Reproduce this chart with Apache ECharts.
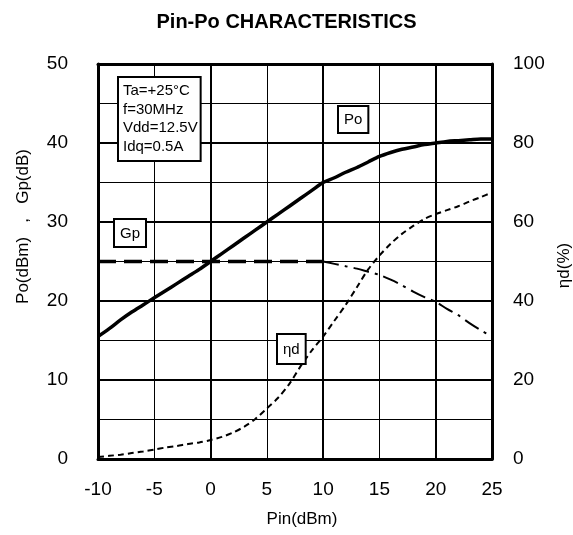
<!DOCTYPE html>
<html><head><meta charset="utf-8">
<script src="https://cdn.jsdelivr.net/npm/echarts@6/dist/echarts.min.js"></script>
<style>html,body{margin:0;padding:0;background:#fff}#c{width:573px;height:535px}</style>
</head><body><div id="c"></div>
<script>
const pinValues = [-10,-9,-8,-7,-6,-5,-4,-3,-2,-1,0,1,2,3,4,5,6,7,8,9,10,11,12,13,14,15,16,17,18,19,20,21,22,23,24,25];
const poValues  = [15.5,16.5,17.6,18.6,19.5,20.4,21.3,22.2,23.1,24.0,25.0,26.0,27.0,28.0,29.0,30.0,31.0,32.0,33.0,34.0,35.0,35.6,36.3,36.9,37.6,38.3,38.8,39.2,39.5,39.8,40.0,40.2,40.3,40.4,40.5,40.5];
const gpValues  = [25,25,25,25,25,25,25,25,25,25,25,25,25,25,25,25,25,25,25,25,25,24.7,24.4,24.1,23.7,23.3,22.7,22.0,21.2,20.5,19.9,19.0,18.2,17.2,16.3,15.5];
const etaValues = [0.5,0.8,1.1,1.5,1.9,2.4,2.9,3.3,3.8,4.2,4.8,5.6,6.7,8.2,10.2,12.8,15.5,19.0,23.5,27.5,31.0,35.0,39.0,43.5,48.0,51.5,54.5,57.0,59.0,60.8,62.0,63.0,64.0,65.2,66.3,67.5];
const xTicks = [-10,-5,0,5,10,15,20,25];
const leftTicks = [0,10,20,30,40,50];
const rightTicks = [0,20,40,60,80,100];
const gpBreak = 10; // Pin where Gp starts to compress

const pair = (xs, ys) => xs.map((x,i)=>[x, ys[i]]);
const gpFlat = pair(pinValues, gpValues).filter(p => p[0] <= gpBreak);
const gpDrop = pair(pinValues, gpValues).filter(p => p[0] >= gpBreak);

const FONT = '"Liberation Sans", Arial, sans-serif';
const chart = echarts.init(document.getElementById('c'), null, {renderer:'canvas'});
chart.setOption({
  animation: false,
  title: {text: 'Pin-Po CHARACTERISTICS', left: 'center', top: 7,
    textStyle: {fontFamily: FONT, fontSize: 20, fontWeight: 'bold', color: '#000'}},
  grid: {left: 98, right: 81, top: 64, bottom: 76, containLabel: false, outerBoundsMode: 'none'},
  xAxis: [
    {type: 'value', min: -10, max: 25, interval: 5, position: 'bottom',
     name: 'Pin(dBm)', nameLocation: 'middle', nameGap: 52,
     nameTextStyle: {fontFamily: FONT, fontSize: 17, color: '#000', padding:[0,0,0,14]},
     axisLine: {show: true, lineStyle: {color: '#000', width: 3}},
     axisTick: {show: false},
     axisLabel: {fontFamily: FONT, fontSize: 19, color: '#000', margin: 21,
       formatter: v => xTicks.includes(v) ? String(v) : ''},
     splitLine: {show: true, lineStyle: {color: '#000', width: 1}}},
    {type: 'value', min: -10, max: 25, interval: 10, position: 'top',
     axisLine: {show: true, onZero: false, lineStyle: {color: '#000', width: 3}},
     axisTick: {show: false}, axisLabel: {show: false},
     splitLine: {show: true, lineStyle: {color: '#000', width: 2}}}
  ],
  yAxis: [
    {type: 'value', min: 0, max: 50, interval: 5, position: 'left',
     name: 'Po(dBm)   ,   Gp(dB)', nameLocation: 'middle', nameGap: 66,
     nameTextStyle: {fontFamily: FONT, fontSize: 17, color: '#000', padding:[0,0,0,70]},
     axisLine: {show: true, onZero: false, lineStyle: {color: '#000', width: 3}},
     axisTick: {show: false},
     axisLabel: {fontFamily: FONT, fontSize: 19, color: '#000', margin: 30,
       formatter: v => leftTicks.includes(v) ? String(v) : ''},
     splitLine: {show: true, lineStyle: {color: '#000', width: 1}}},
    {type: 'value', min: 0, max: 100, interval: 20, position: 'right',
     name: 'ηd(%)', nameLocation: 'middle', nameGap: 64, nameRotate: 90,
     nameTextStyle: {fontFamily: FONT, fontSize: 17, color: '#000', padding:[0,8,0,0]},
     axisLine: {show: true, onZero: false, lineStyle: {color: '#000', width: 3}},
     axisTick: {show: false},
     axisLabel: {fontFamily: FONT, fontSize: 19, color: '#000', margin: 21,
       formatter: v => rightTicks.includes(v) ? String(v) : ''},
     splitLine: {show: true, lineStyle: {color: '#000', width: 2}}}
  ],
  series: [
    {name: 'Po', type: 'line', xAxisIndex: 0, yAxisIndex: 0, data: pair(pinValues, poValues),
     symbol: 'none', smooth: 0.3, lineStyle: {color: '#000', width: 3.5}, z: 5},
    {name: 'Gp', type: 'line', xAxisIndex: 0, yAxisIndex: 0, data: gpFlat,
     symbol: 'none', lineStyle: {color: '#000', width: 3.5, type: [18, 8]}, z: 4},
    {name: 'Gp2', type: 'line', xAxisIndex: 0, yAxisIndex: 0, data: gpDrop,
     symbol: 'none', smooth: 0.3, lineStyle: {color: '#000', width: 2, type: [16, 6, 3, 6]}, z: 4},
    {name: 'ηd', type: 'line', xAxisIndex: 0, yAxisIndex: 1, data: pair(pinValues, etaValues),
     symbol: 'none', smooth: 0.3, lineStyle: {color: '#000', width: 2, type: [6, 4]}, z: 4}
  ],
  graphic: [
    {type: 'text', left: 117, top: 76, z: 100,
     style: {text: 'Ta=+25°C\nf=30MHz\nVdd=12.5V\nIdq=0.5A', font: '15px ' + FONT, fill: '#000',
       lineHeight: 18.5, backgroundColor: '#fff', borderColor: '#000', borderWidth: 2, padding: [4, 2, 4, 4]}},
    {type: 'text', left: 113, top: 218, z: 100,
     style: {text: 'Gp', font: '15px ' + FONT, fill: '#000', backgroundColor: '#fff',
       borderColor: '#000', borderWidth: 2, padding: [6, 5, 5, 5]}},
    {type: 'text', left: 337, top: 105, z: 100,
     style: {text: 'Po', font: '15px ' + FONT, fill: '#000', backgroundColor: '#fff',
       borderColor: '#000', borderWidth: 2, padding: [5, 5, 5, 5]}},
    {type: 'text', left: 276, top: 333, z: 100,
     style: {text: 'ηd', font: '15px ' + FONT, fill: '#000', backgroundColor: '#fff',
       borderColor: '#000', borderWidth: 2, padding: [7, 5, 6, 5]}}
  ]
});
</script></body></html>
